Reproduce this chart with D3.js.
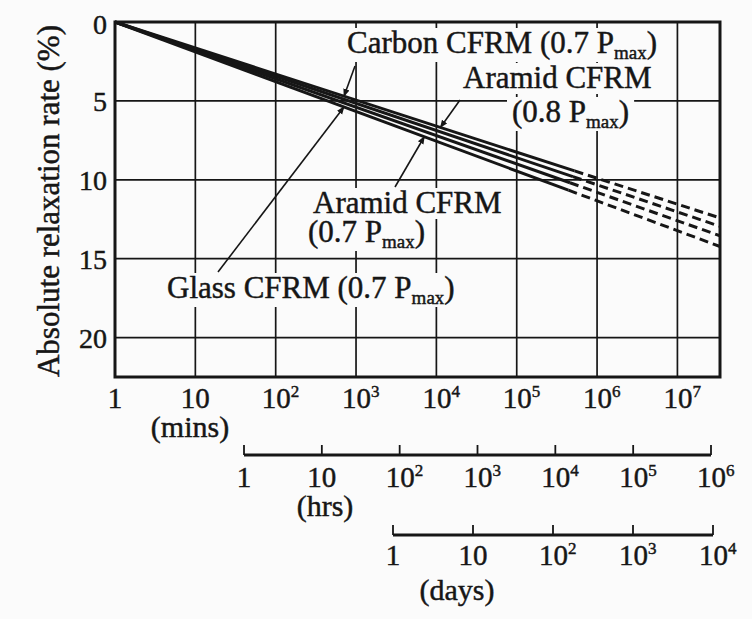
<!DOCTYPE html>
<html>
<head>
<meta charset="utf-8">
<script src="https://cdn.jsdelivr.net/npm/d3@7"></script>
<style>
  body { margin: 0; background: #fbfbfb; }
  svg { display: block; font-family: "Liberation Serif", "Times New Roman", serif; }
  svg text { stroke: #161616; stroke-width: 0.45px; }
</style>
</head>
<body>
<div id="chart"></div>
<script>
// relaxation curves, [minutes, rate %]
var seriesNames = ["Carbon 0.7", "Aramid 0.8", "Aramid 0.7", "Glass 0.7"];
var solidPts = [
  [[1, 0], [5.25e5, 9.44]],
  [[1, 0], [5.0e5, 9.8]],
  [[1, 0], [4.6e5, 10.19]],
  [[1, 0], [4.4e5, 10.66]]
];
var dashPts = [
  [[5.25e5, 9.44], [3.39e7, 12.42]],
  [[5.0e5, 9.8], [3.39e7, 12.95]],
  [[4.6e5, 10.19], [3.39e7, 13.55]],
  [[4.4e5, 10.66], [3.39e7, 14.23]]
];

var minTicks = [1, 10, 1e2, 1e3, 1e4, 1e5, 1e6, 1e7];
var hrsTicks = [1, 10, 1e2, 1e3, 1e4, 1e5, 1e6];
var dayTicks = [1, 10, 1e2, 1e3, 1e4];
var yTicks = [0, 5, 10, 15, 20];

// annotation labels: text lines, [main, subscript, tail]
var labelLines = [
  ["Carbon CFRM (0.7 P", "max", ")"],
  ["Aramid CFRM", "", ""],
  ["(0.8 P", "max", ")"],
  ["Aramid CFRM", "", ""],
  ["(0.7 P", "max", ")"],
  ["Glass CFRM (0.7 P", "max", ")"]
];
// leader targets: [series index, minutes]
var leaderTargets = [[0, 10 ** 2.85], [0, 10 ** 4.05], [3, 10 ** 3.85], [3, 10 ** 2.85]];

var W = 752, H = 619;
var ink = "#161616", bg = "#fbfbfb";

var svg = d3.select("#chart").append("svg").attr("width", W).attr("height", H);

var x = d3.scaleLog().domain([1, 10 ** 7.53]).range([115, 720]);
var y = d3.scaleLinear().domain([0, 22.5]).range([22, 377]);
var xHrs = d3.scaleLog().domain([1, 1e6]).range([244, 711]);
var xDay = d3.scaleLog().domain([1, 1e4]).range([393, 713]);

function rateAt(i, t) {
  var p = solidPts[i][1];
  return p[1] * Math.log10(t) / Math.log10(p[0]);
}

// grid
var grid = svg.append("g").attr("stroke", ink).attr("stroke-width", 1.7);
grid.selectAll(".vg").data(minTicks.slice(1)).join("line")
  .attr("x1", d => x(d)).attr("x2", d => x(d))
  .attr("y1", y(0)).attr("y2", y(22.5));
grid.selectAll(".hg").data(yTicks.slice(1)).join("line")
  .attr("class", "hg")
  .attr("x1", x.range()[0]).attr("x2", x.range()[1])
  .attr("y1", d => y(d)).attr("y2", d => y(d));

// label text (background first so grid gets broken)
var labelPos = [
  [347, 53], [463, 88], [512, 122], [313, 213], [308, 242], [167, 298]
];
var bgG = svg.append("g");
var lineG = svg.append("g");
var textG = svg.append("g").attr("fill", ink);

labelLines.forEach(function (l, i) {
  var t = textG.append("text")
    .attr("x", labelPos[i][0]).attr("y", labelPos[i][1])
    .attr("font-size", 31);
  t.append("tspan").text(l[0]);
  if (l[1]) {
    t.append("tspan").attr("font-size", 19).attr("dy", 6).text(l[1]);
    t.append("tspan").attr("dy", -6).text(l[2]);
  }
  var b = t.node().getBBox();
  bgG.append("rect")
    .attr("x", b.x - 5).attr("y", b.y + 3)
    .attr("width", b.width + 10).attr("height", b.height - 4)
    .attr("fill", bg);
});

// frame
svg.append("rect")
  .attr("x", x.range()[0]).attr("y", y(0))
  .attr("width", x.range()[1] - x.range()[0]).attr("height", y(22.5) - y(0))
  .attr("fill", "none").attr("stroke", ink).attr("stroke-width", 3);

// curves
var line = d3.line().x(d => x(d[0])).y(d => y(d[1]));
lineG.selectAll(".solid").data(solidPts).join("path")
  .attr("d", line).attr("fill", "none")
  .attr("stroke", ink).attr("stroke-width", 3);
lineG.selectAll(".dash").data(dashPts).join("path")
  .attr("class", "dash")
  .attr("d", line).attr("fill", "none")
  .attr("stroke", ink).attr("stroke-width", 3)
  .attr("stroke-dasharray", "9,5");

// leaders with arrowheads
svg.append("defs").append("marker")
  .attr("id", "arr").attr("viewBox", "0 0 10 10")
  .attr("refX", 9).attr("refY", 5)
  .attr("markerWidth", 8).attr("markerHeight", 8)
  .attr("markerUnits", "userSpaceOnUse")
  .attr("orient", "auto")
  .append("path").attr("d", "M0,1L10,5L0,9Z").attr("fill", ink);

var leaderFrom = [[355, 66], [460, 100], [395, 187], [218, 272]];
lineG.selectAll(".lead").data(leaderTargets).join("line")
  .attr("class", "lead")
  .attr("x1", (d, i) => leaderFrom[i][0]).attr("y1", (d, i) => leaderFrom[i][1])
  .attr("x2", d => x(d[1])).attr("y2", d => y(rateAt(d[0], d[1])))
  .attr("stroke", ink).attr("stroke-width", 1.6)
  .attr("marker-end", "url(#arr)");

// y tick labels
svg.append("g").selectAll("text").data(yTicks).join("text")
  .attr("x", 107).attr("y", d => y(d) + (d === 0 ? 12 : 10))
  .attr("text-anchor", "end").attr("font-size", 28).attr("fill", ink)
  .text(d => d);

// y title
svg.append("text")
  .attr("transform", "translate(59,201) rotate(-90)")
  .attr("text-anchor", "middle").attr("font-size", 31).attr("fill", ink)
  .text("Absolute relaxation rate (%)");

// power-of-ten label helper
function powLabel(g, scale, ticks, baseY) {
  ticks.forEach(function (d) {
    var e = Math.round(Math.log10(d));
    var t = g.append("text").attr("y", baseY).attr("font-size", 29).attr("fill", ink);
    if (e < 2) {
      t.attr("x", scale(d)).attr("text-anchor", "middle").text(d);
    } else {
      t.attr("x", scale(d) - 14);
      t.append("tspan").text("10");
      t.append("tspan").attr("font-size", 17).attr("dy", -11).text(e);
    }
  });
}

// minutes axis labels
var axG = svg.append("g");
powLabel(axG, x, minTicks, 408);
axG.append("text").attr("x", 190).attr("y", 437).attr("text-anchor", "middle")
  .attr("font-size", 30).attr("fill", ink).text("(mins)");

// hours & days scales
function subAxis(scale, ticks, lineY, labY, name, nameX, nameY) {
  var g = svg.append("g");
  g.append("line")
    .attr("x1", scale.range()[0]).attr("x2", scale.range()[1])
    .attr("y1", lineY).attr("y2", lineY)
    .attr("stroke", ink).attr("stroke-width", 3);
  g.selectAll(".tk").data(ticks).join("line")
    .attr("x1", d => scale(d)).attr("x2", d => scale(d))
    .attr("y1", lineY).attr("y2", lineY - 10)
    .attr("stroke", ink).attr("stroke-width", 1.8);
  powLabel(g, scale, ticks, labY);
  g.append("text").attr("x", nameX).attr("y", nameY).attr("text-anchor", "middle")
    .attr("font-size", 30).attr("fill", ink).text(name);
}
subAxis(xHrs, hrsTicks, 455, 487, "(hrs)", 325, 516);
subAxis(xDay, dayTicks, 535, 565, "(days)", 457, 600);
</script>
</body>
</html>
